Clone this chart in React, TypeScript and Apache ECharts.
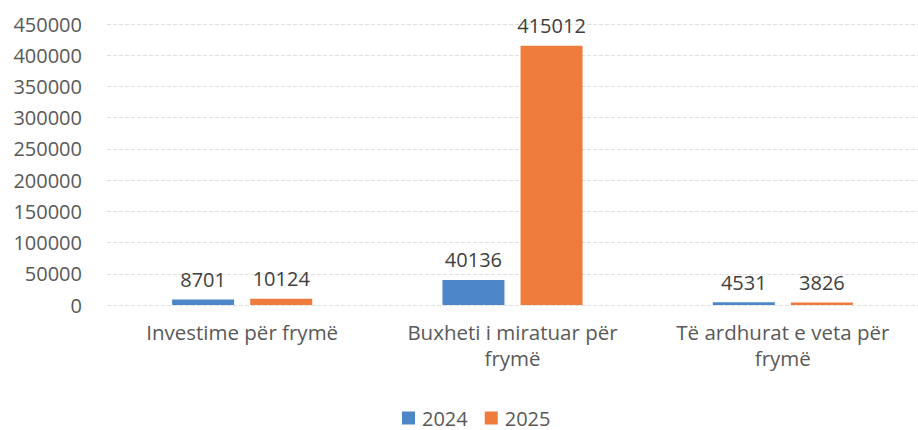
import React, { useEffect, useRef } from "react";
import * as echarts from "echarts";

const categories = [
  "Investime për frymë",
  "Buxheti i miratuar për\nfrymë",
  "Të ardhurat e veta për\nfrymë",
];
const seriesNames = ["2024", "2025"];
const values2024 = [8701, 40136, 4531];
const values2025 = [10124, 415012, 3826];
const yMin = 0;
const yMax = 450000;
const yInterval = 50000;

export default function App() {
  const ref = useRef<HTMLDivElement>(null);
  useEffect(() => {
    document.body.style.margin = "0";
    const chart = echarts.init(ref.current!, null, { renderer: "svg" });
    const font = "'Open Sans', sans-serif";
    const labelStyle = {
      show: true,
      position: "top" as const,
      distance: 10,
      fontSize: 20,
      fontFamily: font,
      fontWeight: 500,
      color: "#404040",
    };
    chart.setOption({
      animation: false,
      backgroundColor: "#ffffff",
      textStyle: { fontFamily: font },
      grid: { left: 107, right: -6, top: 24, bottom: 125, containLabel: false },
      legend: {
        data: seriesNames,
        top: 407,
        left: 402,
        padding: 0,
        itemWidth: 13,
        itemHeight: 13,
        itemGap: 17,
        icon: "rect",
        textStyle: {
          fontSize: 20,
          lineHeight: 22,
          color: "#595959",
          fontFamily: font,
          padding: [0, 0, 0, 2],
        },
      },
      xAxis: {
        type: "category",
        data: categories,
        axisLine: { show: false },
        axisTick: { show: false },
        axisLabel: {
          fontSize: 20.5,
          color: "#595959",
          fontFamily: font,
          lineHeight: 26,
          margin: 14,
          interval: 0,
        },
      },
      yAxis: {
        type: "value",
        min: yMin,
        max: yMax,
        interval: yInterval,
        axisLine: { show: false },
        axisTick: { show: false },
        splitLine: { lineStyle: { color: "#e0e0e0", type: "dashed", width: 1 } },
        axisLabel: {
          fontSize: 20,
          color: "#595959",
          fontFamily: font,
          margin: 25,
          formatter: (v: number) => String(v),
        },
      },
      series: [
        {
          name: seriesNames[0],
          type: "bar",
          data: values2024,
          barWidth: 62,
          barGap: "26%",
          itemStyle: { color: "#4d87c7" },
          label: labelStyle,
        },
        {
          name: seriesNames[1],
          type: "bar",
          data: values2025,
          barWidth: 62,
          itemStyle: { color: "#ef7b3c" },
          label: labelStyle,
        },
      ],
    });
    return () => chart.dispose();
  }, []);
  return <div ref={ref} style={{ width: 918, height: 430 }} />;
}
